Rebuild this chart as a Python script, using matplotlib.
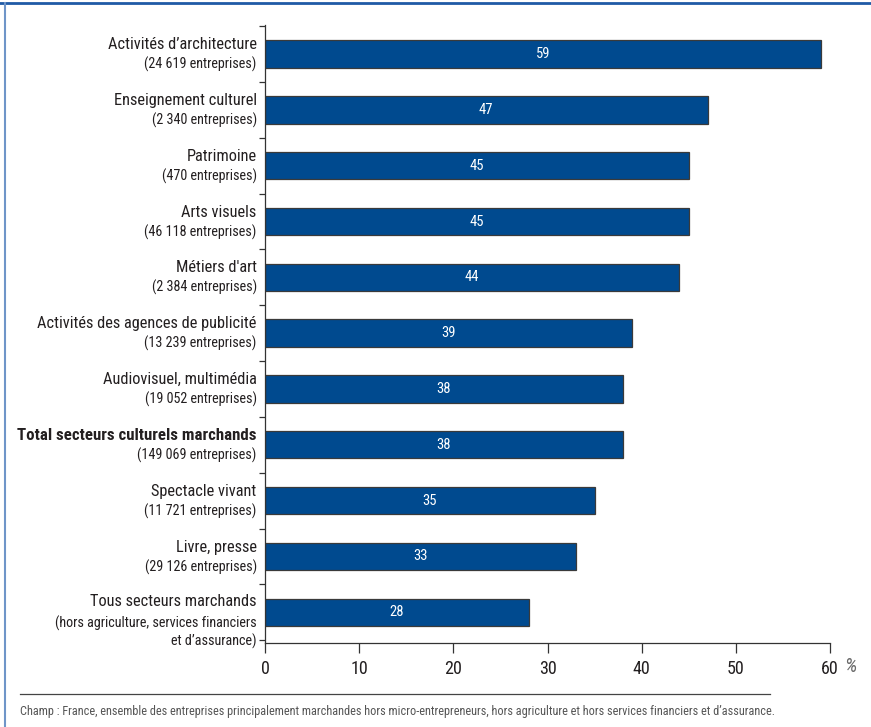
import matplotlib

matplotlib.use("Agg")
import matplotlib.pyplot as plt
import matplotlib.transforms as mtransforms
from matplotlib import font_manager as fm
from matplotlib.lines import Line2D

# police etroite si disponible (le graphique d'origine est en condensed)
installed = {f.name for f in fm.fontManager.ttflist}
FONT = "Liberation Sans"
for cand in ["Roboto Condensed", "Liberation Sans Narrow", "Open Sans Condensed", "Noto Sans Condensed"]:
    if cand in installed:
        FONT = cand
        break
else:
    if any(f.name == "DejaVu Sans" and "condensed" in str(f.stretch) for f in fm.fontManager.ttflist):
        FONT = "DejaVu Sans"
plt.rcParams["font.family"] = [FONT, "DejaVu Sans"]
plt.rcParams["font.stretch"] = "condensed"

# Donnees (part en %)
secteurs = [
    "Activités d\u2019architecture",
    "Enseignement culturel",
    "Patrimoine",
    "Arts visuels",
    "Métiers d'art",
    "Activités des agences de publicité",
    "Audiovisuel, multimédia",
    "Total secteurs culturels marchands",
    "Spectacle vivant",
    "Livre, presse",
    "Tous secteurs marchands",
]
sous_titres = [
    "(24 619 entreprises)",
    "(2 340 entreprises)",
    "(470 entreprises)",
    "(46 118 entreprises)",
    "(2 384 entreprises)",
    "(13 239 entreprises)",
    "(19 052 entreprises)",
    "(149 069 entreprises)",
    "(11 721 entreprises)",
    "(29 126 entreprises)",
    "(hors agriculture, services financiers\net d\u2019assurance)",
]
valeurs = [59, 47, 45, 45, 44, 39, 38, 38, 35, 33, 28]
xticks = [0, 10, 20, 30, 40, 50, 60]
note = ("Champ : France, ensemble des entreprises principalement marchandes hors "
        "micro-entrepreneurs, hors agriculture et hors services financiers et d\u2019assurance.")

BAR_COLOR = "#004a8f"
TEXT_COLOR = "#231f20"

W, H = 871, 727
fig = plt.figure(figsize=(W / 100, H / 100), dpi=100)

ax = fig.add_axes([265 / W, 1 - 643 / H, (830 - 265) / W, (643 - 25) / H])
pos = list(range(len(valeurs)))
ax.barh(pos, valeurs, height=0.49, color=BAR_COLOR, edgecolor="#3a3a3a", linewidth=0.9)
ax.set_xlim(0, 60)
ax.set_ylim(10.55, -0.52)

for sp in ["top", "right"]:
    ax.spines[sp].set_visible(False)
for sp in ["left", "bottom"]:
    ax.spines[sp].set_color("#333333")
    ax.spines[sp].set_linewidth(0.9)

ax.set_xticks(xticks)
ax.set_xticklabels([str(t) for t in xticks], fontsize=13, color=TEXT_COLOR)
ax.tick_params(axis="x", direction="out", length=7, width=0.9, color="#333333", pad=5)
ax.set_yticks([p - 0.5 for p in pos] + [10.5])
ax.set_yticklabels([])
ax.tick_params(axis="y", direction="out", length=4, width=0.9, color="#333333")

# valeurs dans les barres
for p, v in zip(pos, valeurs):
    ax.text(v / 2, p, str(v), color="white", fontsize=10.5, ha="center", va="center")

# libelles a gauche
trans = mtransforms.blended_transform_factory(ax.transAxes, ax.transData)
for p, (nom, sous) in enumerate(zip(secteurs, sous_titres)):
    gras = "bold" if nom.startswith("Total") else "normal"
    multi = "\n" in sous
    dy_main = 7.5 if multi else 6.8
    ax.annotate(nom, xy=(0, p), xycoords=trans, xytext=(-6, dy_main), textcoords="offset points",
                ha="right", va="center", fontsize=12.2 if gras == "bold" else 11.8,
                fontweight=gras, color=TEXT_COLOR, annotation_clip=False)
    ax.annotate(sous, xy=(0, p), xycoords=trans, xytext=(-6, -7.5 if not multi else -14.5),
                textcoords="offset points", ha="right", va="center", fontsize=10.2,
                color=TEXT_COLOR, linespacing=1.2, multialignment="right",
                annotation_clip=False)

fig.text(844 / W, 1 - 667 / H, "%", fontsize=14.5, style="italic", color="#6a6a6a",
         ha="left", va="center")

# ligne et note de bas
fig.add_artist(Line2D([20 / W, 770 / W], [1 - 694 / H] * 2, color="#444444", linewidth=0.9))
fig.text(20 / W, 1 - 711 / H, note, fontsize=8.85, color="#555555", ha="left", va="center")

# cadre
fig.add_artist(Line2D([0, 1], [1 - 3 / H] * 2, color="#1f5aa6", linewidth=2))
fig.add_artist(Line2D([5 / W, 5 / W], [0, 1 - 3 / H], color="#6f95c8", linewidth=1.5))

fig.savefig("out.png", dpi=100)
